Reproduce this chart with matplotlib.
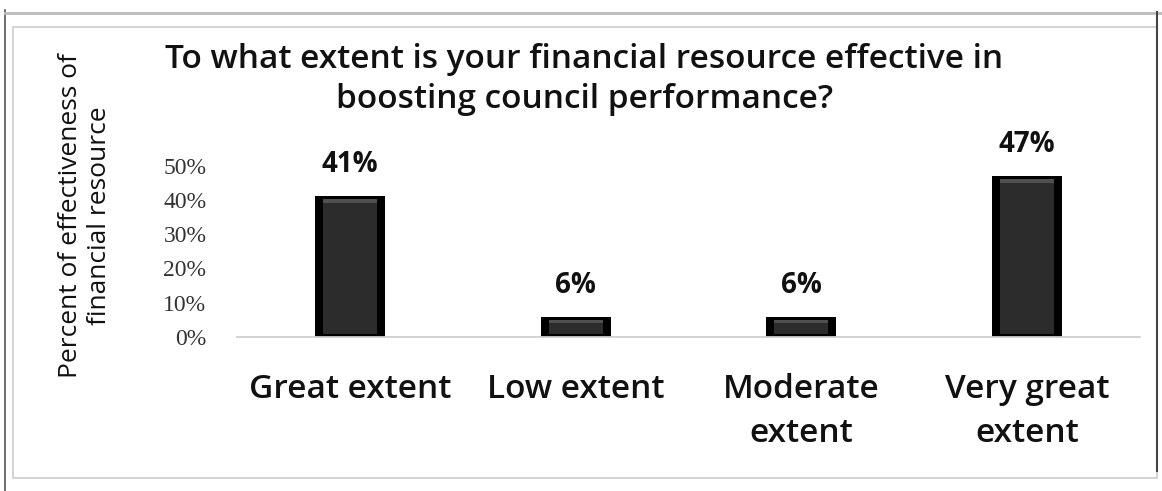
import numpy as np
import matplotlib.pyplot as plt
from matplotlib.patches import Rectangle
from matplotlib.lines import Line2D

# survey answers (17 respondents)
categories = ['Great extent', 'Low extent', 'Moderate\nextent', 'Very great\nextent']
percents = [41.2, 5.9, 5.9, 47.1]
labels = ['41%', '6%', '6%', '47%']
yticks = [0, 10, 20, 30, 40, 50]

plt.rcParams['font.family'] = ['Open Sans', 'DejaVu Sans']

fig = plt.figure(figsize=(11.62, 4.91), dpi=100)
fig.patch.set_facecolor('white')

# frame lines of the pasted figure
fig.add_artist(Line2D([0.004, 0.004], [0.0, 0.98], color='#555555', lw=1.2))
fig.add_artist(Line2D([0.004, 1.0], [0.973, 0.973], color='#bbbbbb', lw=2))
fig.add_artist(Rectangle((0.011, 0.027), 0.985, 0.918, fill=False,
                         edgecolor='#cccccc', lw=1.2))
fig.add_artist(Line2D([0.996, 0.996], [0.04, 0.975], color='#444444', lw=1.5))

ax = fig.add_axes([0.204, 0.314, 0.777, 0.348])
x = np.arange(len(categories))
vals = np.array(percents)

ax.bar(x, vals, width=0.31, color='black', zorder=2)
# bevel look: lighter inner face
ax.bar(x, vals - 2.0, width=0.24, bottom=0.8, color='#2c2c2c', zorder=3)
ax.bar(x, np.minimum(vals - 2.4, 1.0), width=0.24, bottom=vals - 2.0,
       color='#505050', zorder=3)

for xi, v, lab in zip(x, vals, labels):
    ax.text(xi, v + 5.0, lab, ha='center', va='bottom', fontsize=20,
            fontweight='bold', color='#111111')

ax.set_xlim(-0.5, 3.5)
ax.set_ylim(0, 50)
ax.set_yticks(yticks)
ax.set_yticklabels([f'{t}%' for t in yticks], fontsize=17, color='#333333',
                   family=['Liberation Serif'])
ax.set_xticks(x)
ax.set_xticklabels(categories, fontsize=24, color='#111111', linespacing=1.45,
                   fontweight='semibold')
ax.tick_params(axis='y', length=0, pad=22)
ax.tick_params(axis='x', length=0, pad=26)
for s in ['top', 'right', 'left']:
    ax.spines[s].set_visible(False)
ax.spines['bottom'].set_color('#cfcfcf')
ax.spines['bottom'].set_linewidth(1.3)

fig.text(0.503, 0.838, 'To what extent is your financial resource effective in\nboosting council performance?',
         ha='center', va='center', fontsize=24, fontweight='semibold',
         color='#111111', linespacing=1.3)
fig.text(0.073, 0.56, 'Percent of effectiveness of\nfinancial resource', rotation=90,
         ha='center', va='center', fontsize=19, color='#111111', linespacing=1.2)

fig.savefig('out.png', dpi=100)
